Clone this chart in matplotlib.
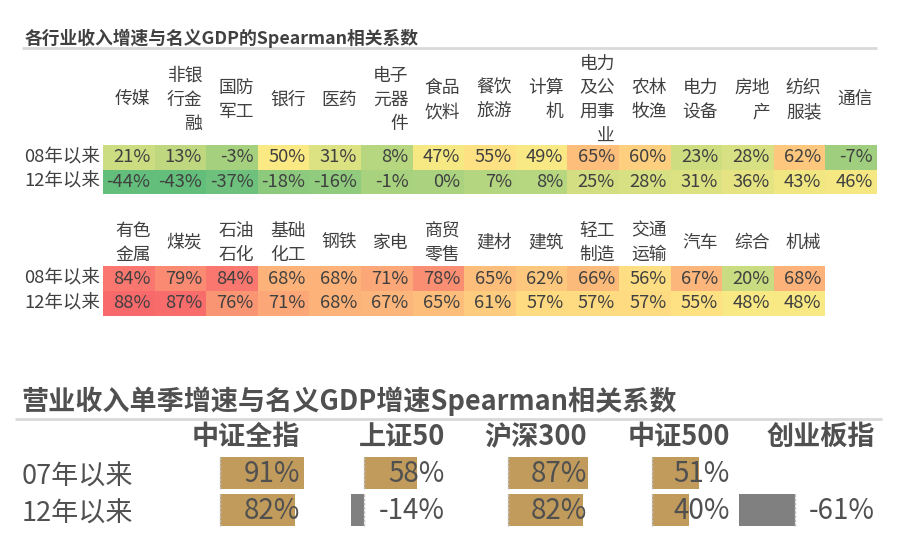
import numpy as np
import matplotlib
matplotlib.use("Agg")
import matplotlib.pyplot as plt
from matplotlib.patches import Rectangle
from matplotlib.colors import LinearSegmentedColormap, TwoSlopeNorm

plt.rcParams['font.family'] = ['Noto Sans CJK SC', 'DejaVu Sans']

# ---------------- data ----------------
title_top = '各行业收入增速与名义GDP的Spearman相关系数'
row_labels_top = ['08年以来', '12年以来']
top_inds = ['传媒', '非银\n行金\n融', '国防\n军工', '银行', '医药', '电子\n元器\n件', '食品\n饮料',
            '餐饮\n旅游', '计算\n机', '电力\n及公\n用事\n业', '农林\n牧渔', '电力\n设备', '房地\n产',
            '纺织\n服装', '通信']
top_08 = [21, 13, -3, 50, 31, 8, 47, 55, 49, 65, 60, 23, 28, 62, -7]
top_12 = [-44, -43, -37, -18, -16, -1, 0, 7, 8, 25, 28, 31, 36, 43, 46]

bot_inds = ['有色\n金属', '煤炭', '石油\n石化', '基础\n化工', '钢铁', '家电', '商贸\n零售', '建材',
            '建筑', '轻工\n制造', '交通\n运输', '汽车', '综合', '机械']
bot_08 = [84, 79, 84, 68, 68, 71, 78, 65, 62, 66, 56, 67, 20, 68]
bot_12 = [88, 87, 76, 71, 68, 67, 65, 61, 57, 57, 57, 55, 48, 48]

title_bottom = '营业收入单季增速与名义GDP增速Spearman相关系数'
idx_names = ['中证全指', '上证50', '沪深300', '中证500', '创业板指']
idx_rows = ['07年以来', '12年以来']
idx_07 = [91, 58, 87, 51, None]
idx_12 = [82, -14, 82, 40, -61]

# ---------------- style ----------------
TXT = '#404040'
cmap = LinearSegmentedColormap.from_list('rdylgn_excel', ['#63BE7B', '#FFEB84', '#F8696B'])
all_vals = np.array(top_08 + top_12 + bot_08 + bot_12, dtype=float)
norm = TwoSlopeNorm(vmin=all_vals.min(), vcenter=np.median(all_vals), vmax=all_vals.max())
BAR_POS = '#C09B5C'
BAR_NEG = '#808080'

fig = plt.figure(figsize=(9.12, 5.48), dpi=100)
ax = fig.add_axes([0, 0, 1, 1])
ax.set_xlim(0, 912)
ax.set_ylim(548, 0)
ax.axis('off')

# ---------------- heatmaps ----------------
X0 = 103
CW = (877 - 103) / 15.0


def heatmap(labels, rows, row_labels, head_y, y0, ch):
    for j, lab in enumerate(labels):
        ax.text(X0 + (j + 1) * CW - 4, head_y, lab, ha='right', va='center',
                multialignment='right', fontsize=12.8, color=TXT, linespacing=1.45)
    for i, vals in enumerate(rows):
        ax.text(X0 - 3, y0 + (i + 0.5) * ch, row_labels[i], ha='right', va='center',
                fontsize=13.3, color=TXT)
        for j, v in enumerate(vals):
            ax.add_patch(Rectangle((X0 + j * CW, y0 + i * ch), CW, ch,
                                   facecolor=cmap(norm(v)), edgecolor='none'))
            ax.text(X0 + (j + 1) * CW - 4, y0 + (i + 0.5) * ch, f'{v}%', ha='right',
                    va='center', fontsize=13.2, color=TXT)


ax.text(25, 38, title_top, ha='left', va='center', fontsize=12.8, fontweight='bold', color=TXT)
ax.plot([22, 877], [48, 48], color='#D9D9D9', lw=2, solid_capstyle='butt')
heatmap(top_inds, [top_08, top_12], row_labels_top, 100, 145, 24.5)
heatmap(bot_inds, [bot_08, bot_12], row_labels_top, 243, 266, 25)

# ---------------- bottom data-bar table ----------------
ax.text(21, 401, title_bottom, ha='left', va='center', fontsize=19.5, fontweight='bold', color='#505050')
ax.plot([15, 882], [419, 419], color='#D9D9D9', lw=2, solid_capstyle='butt')

col_right = [300, 445, 587, 730, 875]
axis_x = [220, 364, 508, 652, 795]
PX_PER_PCT = 0.92
row_y = [473, 510]
BAR_H = 32

for j, name in enumerate(idx_names):
    ax.text(col_right[j], 437, name, ha='right', va='center', fontsize=19.5,
            fontweight='bold', color='#505050')
    for i, vals in enumerate([idx_07, idx_12]):
        v = vals[j]
        if v is None:
            continue
        w = v * PX_PER_PCT
        ax.add_patch(Rectangle((axis_x[j], row_y[i] - BAR_H / 2), w, BAR_H,
                               facecolor=BAR_POS if v >= 0 else BAR_NEG, edgecolor='none'))
        ax.plot([axis_x[j], axis_x[j]], [row_y[i] - BAR_H / 2, row_y[i] + BAR_H / 2],
                color='#BFBFBF', lw=1, ls=(0, (2, 1)))
        ax.text(col_right[j], row_y[i] + 1, f'{v}%', ha='right', va='center',
                fontsize=20, color='#505050')

for i, lab in enumerate(idx_rows):
    ax.text(22, row_y[i] + 4, lab, ha='left', va='center', fontsize=19.5, color='#505050')

fig.savefig('out.png', dpi=100, facecolor='white')
